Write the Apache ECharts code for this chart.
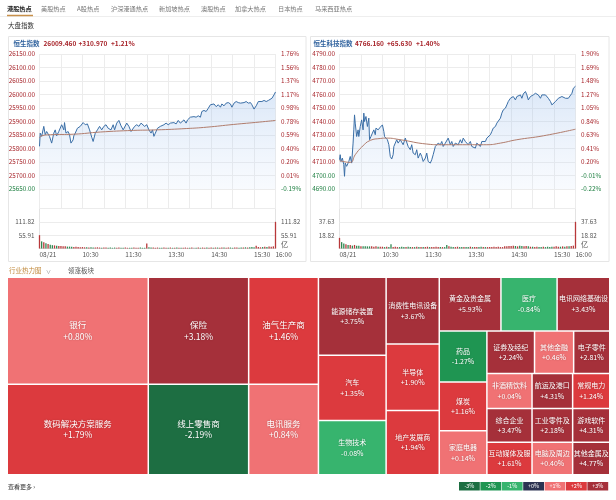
<!DOCTYPE html>
<html><head><meta charset="utf-8">
<script src="https://cdn.jsdelivr.net/npm/echarts@6/dist/echarts.min.js"></script>
<style>html,body{margin:0;padding:0;background:#fff}#c{width:616px;height:500px}</style>
</head><body><div id="c"></div>
<script>
// ---------------- DATA ----------------
const tabs = ['港股热点','美股热点','A股热点','沪深港通热点','新加坡热点','澳股热点','加拿大热点','日本热点','马来西亚热点'];
const sectionTitle = '大盘指数';

const hsiName = '恒生指数', hsiLast = 26009.46, hsiChange = 310.97, hsiPct = 1.21;
const techName = '恒生科技指数', techLast = 4766.16, techChange = 65.63, techPct = 1.40;

const timeTickLabels = ['08/21','','10:30','','11:30','','13:30','','14:30','','15:30','16:00'];
const hsiPctLabels = ['-0.19%','0.01%','0.20%','0.40%','0.59%','0.78%','0.98%','1.17%','1.37%','1.56%','1.76%'];
const techPctLabels = ['-0.22%','-0.01%','0.20%','0.41%','0.63%','0.84%','1.05%','1.27%','1.48%','1.69%','1.90%'];
const hsiVolLabelsL = ['','55.91','111.82',''];
const hsiVolLabelsR = ['亿','55.91','111.82',''];
const techVolLabelsL = ['','18.82','37.63',''];
const techVolLabelsR = ['亿','18.82','37.63',''];

// minutes from 09:30 (lunch break removed)
const hsiTime = [0,1,3,6,8,10,14,17,20,22,24,27,29,31,34,35,37,40,42,44,47,48,50,53,57,61,64,67,70,73,75,78,81,84,87,90,93,96,100,103,105,108,111,114,117,119,122,125,128,130,133,136,139,142,144,147,150,153,156,158,160,162,165,167,169,171,174,177,180,183,185,188,191,194,197,199,202,205,207,209,211,213,216,219,222,225,227,230,233,236,239,241,244,247,250,253,255,258,261,264,267,269,272,275,278,281,283,286,289,292,295,297,300,303,306,308,311,314,317,320,322,325,328,330];
const hsiPrice = [25808,25857,25845,25882,25851,25863,25845,25820,25857,25869,25847,25863,25869,25888,25869,25896,25857,25863,25851,25820,25832,25847,25857,25875,25882,25896,25888,25891,25869,25842,25826,25857,25869,25882,25869,25882,25888,25875,25869,25888,25869,25894,25904,25884,25869,25875,25894,25882,25863,25869,25882,25888,25882,25894,25888,25882,25888,25869,25857,25869,25845,25857,25875,25869,25882,25875,25888,25894,25888,25894,25891,25896,25891,25904,25894,25900,25906,25894,25906,25900,25916,25918,25918,25916,25921,25916,25937,25941,25937,25949,25962,25955,25965,25955,25962,25953,25965,25958,25968,25970,25965,25953,25968,25974,25970,25968,25974,25970,25974,25968,25970,25962,25946,25958,25974,25978,25974,25978,25974,25978,25980,25986,25999,26009.46];
const hsiAvgTime = [0,3,15,48,85,131,164,206,234,271,308,330];
const hsiAvg = [25840,25847,25851,25853,25861,25867,25869,25874,25879,25889,25898,25904];
const hsiVol = [56,30,26,22,19,16,14,13,12,11,10,9,9,8,8,7,6,7,6,5,6,5,5,4,5,4,4,5,4,3,4,4,3,4,3,4,3,4,3,3,4,3,3,3,4,3,3,4,3,3,21,5,
 4,4,3,4,3,3,4,3,3,
 4,3,3,4,3,3,3,4,3,3,
 4,3,3,4,3,4,3,4,3,4,
 3,4,4,3,4,4,3,4,4,3,
 4,4,3,4,4,5,4,5,6,
 5,12,6,5,6,7,6,8,7,9,111.82];

const techTime = [0,1,2,4,6,7,8,10,13,15,17,19,20,21,22,24,26,27,29,31,33,34,35,37,39,41,42,44,46,48,50,51,54,57,60,62,63,65,67,69,71,73,75,76,78,80,82,85,87,89,92,94,96,99,101,103,106,108,110,113,115,117,120,122,124,127,129,131,134,136,138,141,143,145,148,150,152,155,157,159,162,164,166,169,171,173,176,178,180,183,185,187,190,192,194,197,199,201,204,206,208,211,213,215,218,220,222,225,227,229,232,234,236,239,241,243,246,248,250,253,255,257,260,262,264,267,269,271,274,276,278,281,283,285,288,290,292,295,297,299,302,304,306,308,311,313,316,318,320,322,325,327,330];
const techPrice = [4711.7,4715.4,4710.4,4712.9,4708.0,4699.4,4709.2,4706.8,4710.4,4714.1,
 4709.2,4724.0,4733.8,4744.9,4738.8,4728.9,4733.8,4728.9,4736.3,4741.2,
 4733.8,4746.2,4740.0,4743.7,4736.3,4742.5,4726.5,4728.9,4731.4,4733.8,
 4730.2,4735.1,4733.8,4735.8,4737.5,4732.6,4728.9,4730.2,4726.5,4722.8,
 4714.1,4712.2,4715.4,4721.5,4722.8,4726.5,4724.0,4726.5,4725.2,4722.8,
 4727.7,4728.9,4721.5,4719.1,4722.8,4716.6,4715.4,4719.1,4712.9,4716.6,
 4714.1,4710.4,4712.9,4716.6,4710.4,4709.2,4711.7,4715.4,4721.5,4720.3,
 4724.0,4722.8,4725.2,4721.5,4724.0,4722.8,4727.7,4722.8,4725.2,4721.5,
 4724.0,4725.2,4722.8,4726.5,4724.0,4727.7,4725.2,4726.5,4722.8,4725.2,
 4721.5,4722.8,4720.3,4724.0,4722.8,4721.5,4725.2,4726.5,4725.2,4727.7,
 4728.9,4730.2,4732.6,4735.1,4736.3,4738.8,4740.0,4742.5,4746.2,4748.6,
 4749.9,4752.3,4754.8,4757.2,4756.0,4758.5,4756.0,4758.5,4757.2,4759.7,
 4757.2,4760.4,4762.2,4759.7,4756.0,4758.5,4757.2,4759.7,4760.9,4762.2,
 4759.7,4757.2,4759.7,4760.9,4759.7,4758.5,4757.2,4754.8,4752.3,4753.5,
 4754.8,4756.0,4757.2,4756.0,4758.5,4757.2,4757.2,4758.5,4757.2,4758.5,
 4760.9,4764.6,4766.16];
const techAvgTime = [0,15,22,31,43,57,66,85,122,141,178,206,225,248,285,330];
const techAvg = [4711,4709.7,4715.4,4721,4726,4727.4,4727.7,4726.5,4723.3,4722.8,4722.8,4722.8,4724,4726.5,4729.4,4734.3];
const techVol = [15,9,7,6,5,5,4,5,4,4,
 3,3,3,3,3,3,2.5,3,2.5,2.5,
 2.5,2,2.5,2,6,2,2.5,2,2,2.5,
 2,2,2.5,2,2,2,2.5,2,2,2,
 2,2.5,2,2,2,2.5,2,2,2,2,
 5,
 3,2.5,2,2,2.5,2,2,2,2,
 2,2.5,2,2,2,2,2.5,2,2,2,
 2,2,2.5,2,2.5,2,2,3,3,3.5,
 3.5,4,3.5,3,4,3.5,3,3.5,3,2.5,
 2.5,2,2.5,2,2,2.5,2,2.5,2,2.5,
 2.5,3,2.5,2.5,3,2.5,3,3,3.5,4,37.63];
const VOL_STEP = 3;

const heatTitle = '行业热力图', heatTab2 = '领涨板块', moreText = '查看更多 ›';
const sectorNames = ['银行','数码解决方案服务','保险','线上零售商','油气生产商','电讯服务','能源储存装置','汽车','生物技术','消费性电讯设备','半导体','地产发展商','黄金及贵金属','医疗','电讯网络基础设','药品','煤炭','家庭电器','证券及经纪','其他金融','电子零件','非酒精饮料','综合企业','互动媒体及服','航运及港口','常规电力','工业零件及','电脑及周边','游戏软件','其他金属及'];
const sectorChanges = [0.80,1.79,3.18,-2.19,1.46,0.84,3.75,1.35,-0.08,3.67,1.90,1.94,5.93,-0.84,3.43,-1.27,1.16,0.14,2.24,0.46,2.81,0.04,3.47,1.61,4.31,1.24,2.18,0.40,4.31,4.77];
const sectorWeights = [14851,12575,10570,8950,7346,6220,5198,4354,3611,3498,3472,3366,3260,2968,2783,2399,2280,2066,1995,1638,1512,1553,1508,1440,1397,1277,1357,1296,1240,1184];
const legendLabels = ['-3%','-2%','-1%','+0%','+1%','+2%','+3%'];

// ---------------- STYLE ----------------
const FONT = "'Noto Sans CJK SC','Noto Sans',sans-serif";
const RED = '#a8262c', GREEN = '#1d7f40', BLUE = '#2c5f9c';
const GRIDC = '#ececec';
const AX = 6.3;
const legendColors = ['#1d6e42','#1f9552','#37b46e','#2c3352','#f07274','#dc3a3e','#a5303a'];
function heatColor(c){
  if (c > 2) return legendColors[6];
  if (c > 1) return legendColors[5];
  if (c > 0) return legendColors[4];
  if (c === 0) return legendColors[3];
  if (c >= -1) return legendColors[2];
  if (c >= -2) return legendColors[1];
  return legendColors[0];
}
const signed = (v, d) => (v > 0 ? '+' : '') + v.toFixed(d);

function barColor(times, prices, prev, t){
  let j = 0;
  while (j + 1 < times.length && times[j + 1] <= t) j++;
  const cur = prices[j], before = j > 0 ? prices[j - 1] : prev;
  return cur > before ? '#b8383a' : (cur < before ? '#2f8a52' : '#8a8a8a');
}

const hsiPrev = hsiLast - hsiChange;
const techPrev = techLast - techChange;

// ---------------- AXES/GRIDS ----------------
const panels = [
  {left: 39.5, min: 25650, max: 26150, interval: 50, prev: hsiPrev, pct: hsiPctLabels, volMax: 167.73, volInt: 55.91, volL: hsiVolLabelsL, volR: hsiVolLabelsR},
  {left: 339.5, min: 4690, max: 4790, interval: 10, prev: techPrev, pct: techPctLabels, volMax: 56.445, volInt: 18.815, volL: techVolLabelsL, volR: techVolLabelsR}
];
const grids = [], xAxes = [], yAxes = [];
panels.forEach(p => {
  grids.push({left: p.left, top: 54, width: 236, height: 135});
  grids.push({left: p.left, top: 189, width: 236, height: 19.5});
  grids.push({left: p.left, top: 208.5, width: 236, height: 40, show: true, borderColor: '#e3e3e3', borderWidth: 1});
});
panels.forEach((p, k) => {
  const g = k * 3;
  const baseX = {type: 'value', min: 0, max: 330, interval: 30, axisLine: {show: false}, axisTick: {show: false}};
  xAxes.push(Object.assign({gridIndex: g, axisLabel: {show: false}, splitLine: {show: true, lineStyle: {color: GRIDC}}}, baseX));
  xAxes.push(Object.assign({gridIndex: g + 1, axisLabel: {show: false}, splitLine: {show: true, lineStyle: {color: GRIDC}}}, baseX));
  xAxes.push({gridIndex: g + 2, type: 'value', min: 0, max: 330, interval: 30,
    axisLine: {show: true, lineStyle: {color: '#dcdcdc'}}, axisTick: {show: false}, splitLine: {show: false},
    axisLabel: {show: true, showMinLabel: true, showMaxLabel: true, align: 'left', margin: 3, fontSize: 6.5, color: '#555', fontFamily: FONT,
      formatter: v => timeTickLabels[Math.round(v / 30)] || ''}});
  const lblColor = v => (v >= p.prev ? RED : GREEN);
  yAxes.push({gridIndex: g, type: 'value', position: 'left', min: p.min, max: p.max, interval: p.interval,
    axisLine: {show: false}, axisTick: {show: false}, splitLine: {show: true, lineStyle: {color: GRIDC}},
    axisLabel: {fontSize: AX, margin: 4.5, fontFamily: FONT, color: lblColor, formatter: v => v.toFixed(2)}});
  yAxes.push({gridIndex: g, type: 'value', position: 'right', min: p.min, max: p.max, interval: p.interval,
    axisLine: {show: false}, axisTick: {show: false}, splitLine: {show: false},
    axisLabel: {fontSize: AX, margin: 5.5, fontFamily: FONT, color: lblColor, formatter: v => p.pct[Math.round((v - p.min) / p.interval)]}});
  yAxes.push({gridIndex: g + 1, type: 'value', show: false});
  yAxes.push({gridIndex: g + 2, type: 'value', position: 'left', min: 0, max: p.volMax, interval: p.volInt,
    axisLine: {show: false}, axisTick: {show: false}, splitLine: {show: true, lineStyle: {color: GRIDC}},
    axisLabel: {fontSize: AX, margin: 5, fontFamily: FONT, color: '#555', showMinLabel: true, showMaxLabel: true,
      formatter: v => p.volL[Math.round(v / p.volInt)] || ''}});
  yAxes.push({gridIndex: g + 2, type: 'value', position: 'right', min: 0, max: p.volMax, interval: p.volInt,
    axisLine: {show: false}, axisTick: {show: false}, splitLine: {show: false},
    axisLabel: {fontSize: AX, margin: 5.5, fontFamily: FONT, color: '#555', showMinLabel: true, showMaxLabel: true,
      formatter: v => { const i = Math.round(v / p.volInt); const s = p.volR[i] || ''; return i === 0 && s ? '{u|' + s + '}' : s; },
      rich: {u: {fontSize: 7, color: '#555', fontFamily: FONT, padding: [0, 0, 8, 0]}}}});
});

// ---------------- SERIES ----------------
function lineSeries(xi, yi, times, prices){
  return {type: 'line', xAxisIndex: xi, yAxisIndex: yi, showSymbol: false, symbol: 'none',
    data: times.map((t, i) => [t, prices[i]]),
    lineStyle: {color: '#3a6ea6', width: 1},
    areaStyle: {color: new echarts.graphic.LinearGradient(0, 0, 0, 1, [
      {offset: 0, color: 'rgba(140,180,232,0.45)'}, {offset: 1, color: 'rgba(215,230,250,0.25)'}])},
    z: 3};
}
function avgSeries(xi, yi, times, vals){
  return {type: 'line', xAxisIndex: xi, yAxisIndex: yi, showSymbol: false, symbol: 'none', smooth: true,
    data: times.map((t, i) => [t, vals[i]]), lineStyle: {color: '#b07c6c', width: 1}, z: 4};
}
function volSeries(xi, yi, vols, times, prices, prev){
  return {type: 'bar', xAxisIndex: xi, yAxisIndex: yi, barWidth: 1.3,
    data: vols.map((v, i) => ({value: [i * VOL_STEP, v], itemStyle: {color: barColor(times, prices, prev, i * VOL_STEP)}}))};
}

const treemapData = sectorNames.map((n, i) => {
  const big = sectorWeights[i] > 6000;
  return {name: n, value: sectorWeights[i], change: sectorChanges[i],
    itemStyle: {color: heatColor(sectorChanges[i])},
    label: {fontSize: big ? 8.5 : 7, lineHeight: big ? 11.5 : 10.5}};
});

const series = [
  lineSeries(0, 0, hsiTime, hsiPrice),
  avgSeries(0, 0, hsiAvgTime, hsiAvg),
  volSeries(2, 3, hsiVol, hsiTime, hsiPrice, hsiPrev),
  lineSeries(3, 5, techTime, techPrice),
  avgSeries(3, 5, techAvgTime, techAvg),
  volSeries(5, 8, techVol, techTime, techPrice, techPrev),
  {type: 'treemap', left: 8, top: 278, width: 601, height: 196,
    roam: false, nodeClick: false, sort: false, squareRatio: 1,
    breadcrumb: {show: false}, upperLabel: {show: false},
    itemStyle: {borderWidth: 0, gapWidth: 1.5, borderColor: '#fff'},
    levels: [{itemStyle: {borderWidth: 0, gapWidth: 1.5}}],
    label: {show: true, position: 'inside', align: 'center', verticalAlign: 'middle', padding: 0, overflow: 'none',
      color: '#fff', fontFamily: FONT, textShadowColor: 'rgba(0,0,0,0.25)', textShadowBlur: 2,
      formatter: p => p.name + '\n' + signed(p.data.change, 2) + '%'},
    emphasis: {disabled: true},
    data: treemapData}
];

// ---------------- GRAPHIC (page chrome) ----------------
const tabX = [7, 41, 77, 111, 159, 201, 235, 278, 315];
const G = [];
function txt(x, y, text, o){
  o = o || {};
  G.push({type: 'text', x: x, y: y, z: 10, style: {text: text, fill: o.fill || '#333', fontSize: o.size || 6.5,
    fontWeight: o.weight || 'normal', fontFamily: FONT, align: o.align || 'left', verticalAlign: 'middle'}});
}
G.push({type: 'line', shape: {x1: 0, y1: 16.5, x2: 616, y2: 16.5}, style: {stroke: '#eeeeee', lineWidth: 1}});
tabs.forEach((t, i) => txt(tabX[i], 8.5, t, {fill: i === 0 ? '#222' : '#777', weight: i === 0 ? 'bold' : 'normal', size: 6.2}));
G.push({type: 'line', shape: {x1: 7, y1: 15.5, x2: 33, y2: 15.5}, style: {stroke: '#c8904a', lineWidth: 1.5}});
txt(8, 26, sectionTitle, {fill: '#333', size: 6.5});
G.push({type: 'rect', shape: {x: 8.5, y: 36.5, width: 297.5, height: 225}, style: {fill: 'none', stroke: '#e6e6e6', lineWidth: 1}});
G.push({type: 'rect', shape: {x: 310.5, y: 36.5, width: 298.5, height: 225}, style: {fill: 'none', stroke: '#e6e6e6', lineWidth: 1}});
const H = 6.5;
txt(13.5, 43.5, hsiName, {fill: BLUE, weight: 'bold', size: H});
txt(43.5, 43.5, hsiLast.toFixed(3), {fill: RED, weight: 'bold', size: H});
txt(78.5, 43.5, signed(hsiChange, 3), {fill: RED, weight: 'bold', size: H});
txt(111, 43.5, signed(hsiPct, 2) + '%', {fill: RED, weight: 'bold', size: H});
txt(313.5, 43.5, techName, {fill: BLUE, weight: 'bold', size: H});
txt(355, 43.5, techLast.toFixed(3), {fill: RED, weight: 'bold', size: H});
txt(387, 43.5, signed(techChange, 3), {fill: RED, weight: 'bold', size: H});
txt(416, 43.5, signed(techPct, 2) + '%', {fill: RED, weight: 'bold', size: H});
txt(9, 270.5, heatTitle, {fill: '#c0883a', size: 6.5});
txt(46, 271, '∨', {fill: '#888', size: 5});
txt(68, 270.5, heatTab2, {fill: '#555', size: 6.5});
txt(8, 487, moreText, {fill: '#333', size: 6});
legendLabels.forEach((l, i) => {
  const x = 459 + i * 21.4;
  G.push({type: 'rect', z: 10, shape: {x: x, y: 482, width: 20.8, height: 8.5}, style: {fill: legendColors[i]}});
  txt(x + 10.4, 486.3, l, {fill: '#fff', size: 5.5, align: 'center'});
});

const chart = echarts.init(document.getElementById('c'), null, {renderer: 'canvas', width: 616, height: 500});
chart.setOption({
  animation: false,
  backgroundColor: '#fff',
  textStyle: {fontFamily: FONT},
  grid: grids, xAxis: xAxes, yAxis: yAxes,
  series: series,
  graphic: G
});
</script></body></html>
